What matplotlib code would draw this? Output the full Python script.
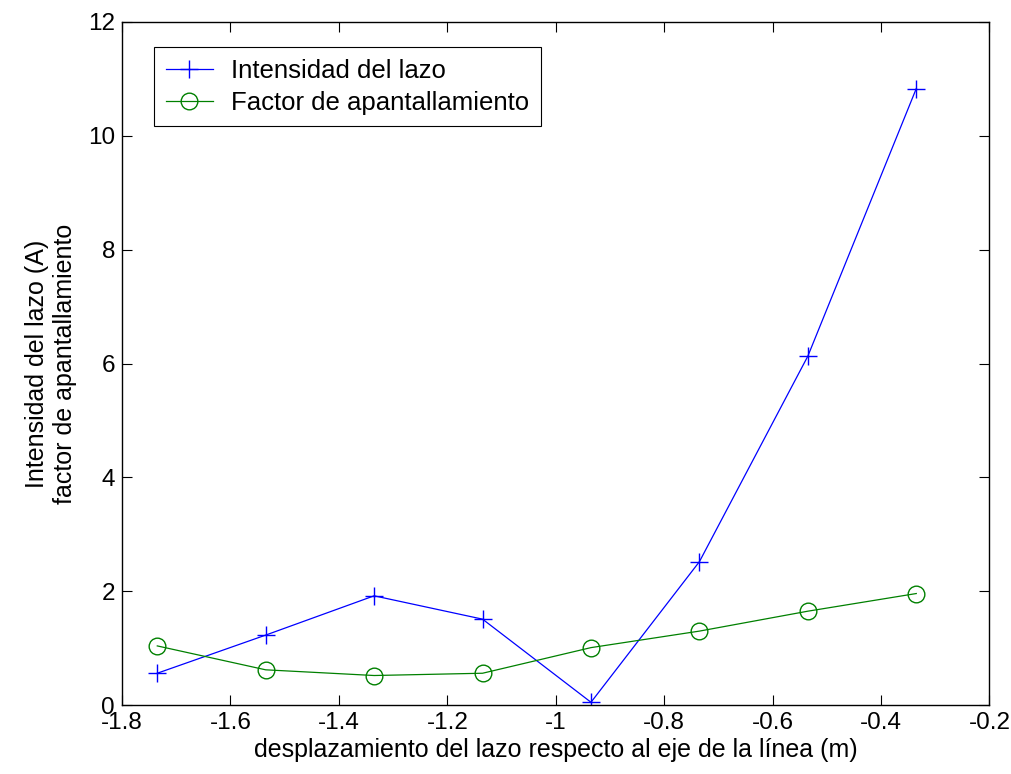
import numpy as np
import matplotlib.pyplot as plt

plt.rcParams['font.family'] = ['Liberation Sans', 'DejaVu Sans']

# desplazamiento del lazo (m)
desplazamiento = [-1.735, -1.535, -1.335, -1.135, -0.935, -0.735, -0.535, -0.335]
intensidad = [0.56, 1.23, 1.92, 1.51, 0.05, 2.52, 6.13, 10.83]
factor = [1.04, 0.62, 0.52, 0.56, 1.01, 1.30, 1.65, 1.96]

fig = plt.figure(figsize=(10.11, 7.74), dpi=100)
ax = fig.add_axes([0.1207, 0.089, 0.858, 0.8826])

ax.plot(desplazamiento, intensidad, color=(0, 0, 1), lw=0.9, marker='+',
        markersize=13, markeredgewidth=1.0, label='Intensidad del lazo')
ax.plot(desplazamiento, factor, color=(0, 0.5, 0), lw=0.9, marker='o',
        markersize=12, markerfacecolor='none', markeredgewidth=1.0,
        label='Factor de apantallamiento')

ax.set_xlim(-1.8, -0.2)
ax.set_ylim(0, 12)
ax.set_xticks(np.arange(-1.8, -0.19, 0.2))
ax.set_xticklabels(['-1.8', '-1.6', '-1.4', '-1.2', '-1', '-0.8', '-0.6', '-0.4', '-0.2'])
ax.set_yticks(range(0, 13, 2))
ax.tick_params(direction='in', length=7, width=0.8, labelsize=17.5,
               top=True, right=True, pad=5)
for s in ax.spines.values():
    s.set_linewidth(1.0)

ax.set_xlabel('desplazamiento del lazo respecto al eje de la línea (m)', fontsize=18, labelpad=3)
ax.set_ylabel('Intensidad del lazo (A)\nfactor de apantallamiento', fontsize=18, labelpad=8)

leg = ax.legend(loc='upper left', bbox_to_anchor=(0.037, 0.963), fontsize=18.5,
                fancybox=False, edgecolor='black', framealpha=1,
                handlelength=1.85, borderpad=0.45, labelspacing=0.3,
                handletextpad=0.7, borderaxespad=0)
leg.get_frame().set_linewidth(0.8)

plt.savefig('out.png', dpi=100)
